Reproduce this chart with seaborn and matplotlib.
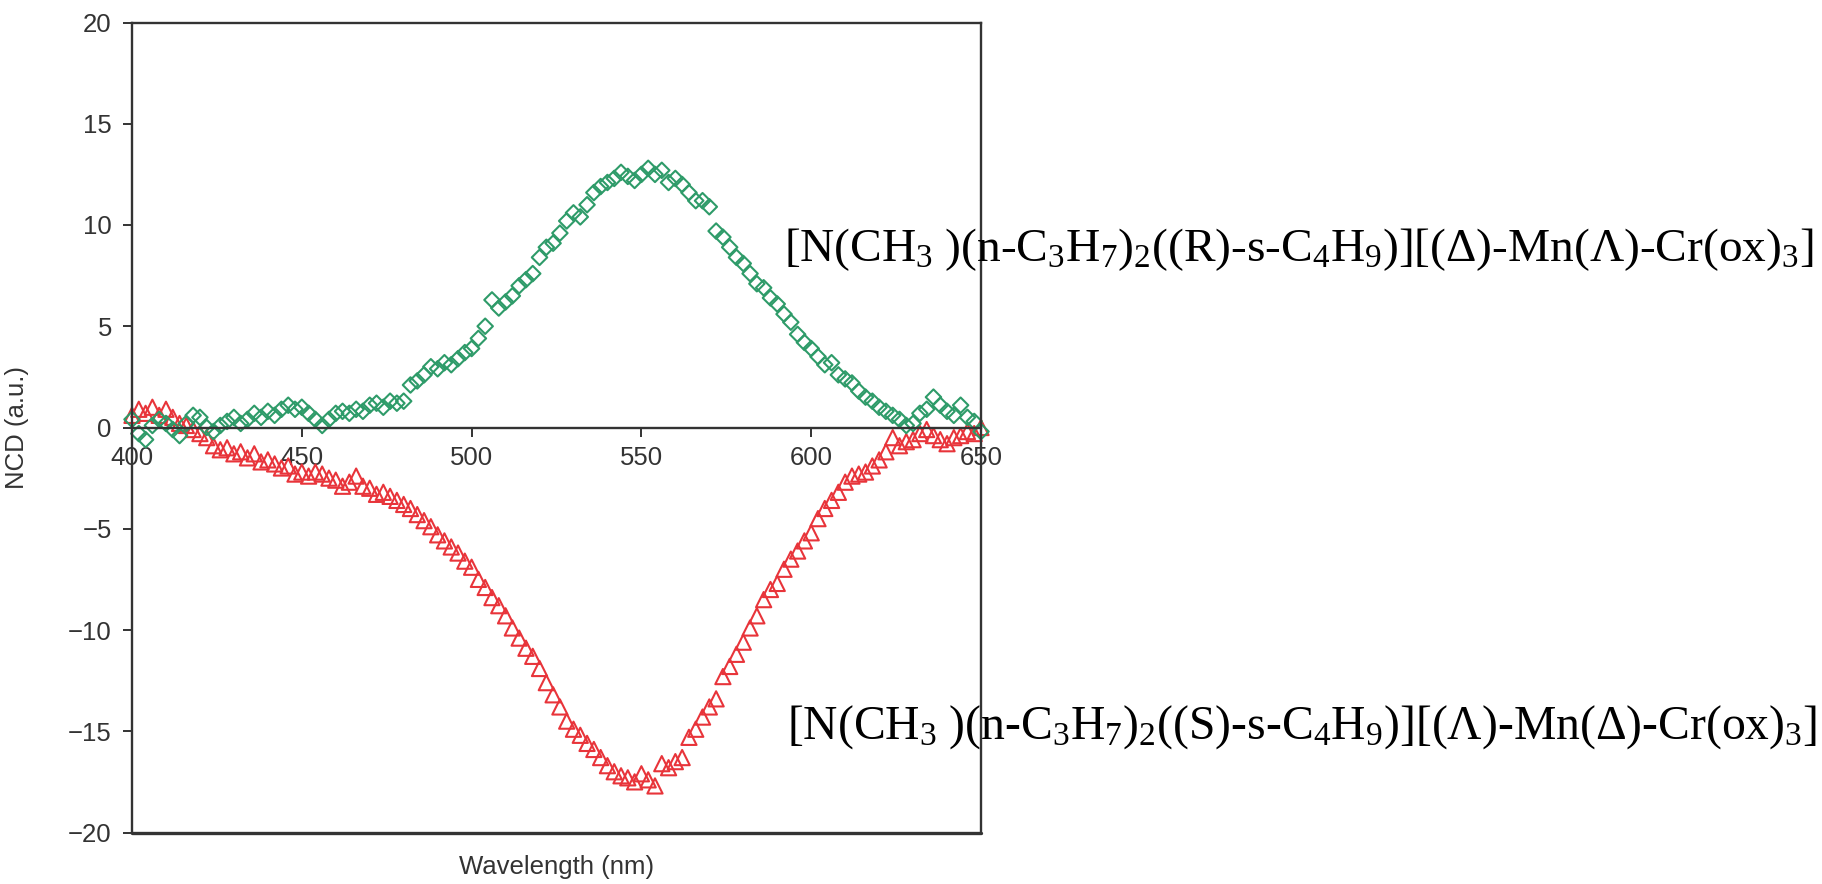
import numpy as np
import pandas as pd
import matplotlib
matplotlib.use("Agg")
import matplotlib.pyplot as plt
import seaborn as sns
from matplotlib import font_manager

# ---------------- data ----------------
wavelength = list(range(400, 651, 2))

ncd_R = [0.4, -0.3, -0.6, 0.1, 0.4, 0.2, -0.1, -0.4, 0.2, 0.6,
         0.5, 0.0, -0.2, 0.1, 0.3, 0.5, 0.2, 0.4, 0.7, 0.5,
         0.8, 0.6, 0.9, 1.1, 0.9, 1.0, 0.7, 0.4, 0.1, 0.4,
         0.7, 0.8, 0.7, 0.9, 0.8, 1.1, 1.2, 1.0, 1.3, 1.2,
         1.3, 2.1, 2.3, 2.6, 3.0, 2.9, 3.2, 3.1, 3.4, 3.7,
         3.9, 4.4, 5.0, 6.3, 5.9, 6.2, 6.5, 7.0, 7.3, 7.6,
         8.4, 8.9, 9.1, 9.6, 10.2, 10.6, 10.4, 11.0, 11.6, 11.9,
         12.1, 12.3, 12.6, 12.4, 12.2, 12.5, 12.8, 12.5, 12.7, 12.1,
         12.3, 12.0, 11.6, 11.2, 11.2, 10.9, 9.7, 9.4, 8.9, 8.4,
         8.1, 7.6, 7.1, 6.9, 6.4, 6.1, 5.6, 5.2, 4.6, 4.2,
         3.9, 3.5, 3.1, 3.2, 2.6, 2.4, 2.2, 1.8, 1.5, 1.3,
         1.0, 0.8, 0.6, 0.4, 0.1, 0.2, 0.7, 0.9, 1.5, 1.1,
         0.8, 0.6, 1.1, 0.5, 0.3, -0.2]

ncd_S = [0.6, 0.9, 0.7, 1.0, 0.6, 0.9, 0.5, 0.2, 0.1, -0.1,
         -0.3, -0.5, -0.9, -1.1, -1.0, -1.3, -1.2, -1.5, -1.3, -1.7,
         -1.6, -1.8, -2.0, -1.9, -2.3, -2.2, -2.4, -2.2, -2.3, -2.5,
         -2.6, -2.9, -2.7, -2.4, -2.9, -3.0, -3.3, -3.2, -3.4, -3.6,
         -3.8, -4.0, -4.3, -4.6, -4.9, -5.3, -5.6, -5.9, -6.2, -6.6,
         -6.9, -7.5, -7.9, -8.4, -8.8, -9.3, -9.9, -10.4, -10.9, -11.3,
         -11.9, -12.6, -13.2, -13.8, -14.5, -14.9, -15.2, -15.6, -15.9, -16.3,
         -16.7, -17.0, -17.2, -17.3, -17.5, -17.1, -17.4, -17.7, -16.6, -16.8,
         -16.5, -16.3, -15.3, -14.9, -14.3, -13.8, -13.4, -12.3, -11.8, -11.2,
         -10.6, -9.9, -9.3, -8.5, -8.0, -7.7, -7.0, -6.5, -6.1, -5.6,
         -5.2, -4.5, -4.0, -3.6, -3.2, -2.7, -2.4, -2.3, -2.2, -1.9,
         -1.6, -1.2, -0.5, -0.9, -0.7, -0.6, -0.3, -0.1, -0.4, -0.6,
         -0.8, -0.5, -0.4, -0.2, -0.3, 0.0]

label_R = r"$\mathrm{[N(CH_3\ )(n\text{-}C_3H_7)_2((R)\text{-}s\text{-}C_4H_9)][(\Delta)\text{-}Mn(\Lambda)\text{-}Cr(ox)_3]}$"
label_S = r"$\mathrm{[N(CH_3\ )(n\text{-}C_3H_7)_2((S)\text{-}s\text{-}C_4H_9)][(\Lambda)\text{-}Mn(\Delta)\text{-}Cr(ox)_3]}$"

x_ticks = [400, 450, 500, 550, 600, 650]
y_ticks = [-20, -15, -10, -5, 0, 5, 10, 15, 20]
x_label = "Wavelength (nm)"
y_label = "NCD (a.u.)"

green = "#2e9b69"
red = "#e8343a"
axis_col = "#333333"

# ---------------- style ----------------
sns.set_theme(style="white")
names = {f.name for f in font_manager.fontManager.ttflist}
if "Liberation Sans Narrow" in names:
    sans = "Liberation Sans Narrow"
    tick_fs = 20.5
else:
    sans = "Liberation Sans"
    tick_fs = 18.5
plt.rcParams["font.family"] = [sans, "DejaVu Sans"]
plt.rcParams["mathtext.fontset"] = "custom"
plt.rcParams["mathtext.rm"] = "Liberation Serif"
plt.rcParams["mathtext.it"] = "Liberation Serif:italic"
plt.rcParams["mathtext.bf"] = "Liberation Serif:bold"

fig = plt.figure(figsize=(18.22, 8.84), dpi=100)
ax = fig.add_axes([132 / 1822, 51.5 / 884, 849 / 1822, 810 / 884])

df_S = pd.DataFrame({"wl": wavelength, "ncd": ncd_S})
df_R = pd.DataFrame({"wl": wavelength, "ncd": ncd_R})

sns.scatterplot(data=df_S, x="wl", y="ncd", marker="^", s=120, ax=ax,
                facecolor="none", edgecolor=red, linewidth=1.5, clip_on=False)
sns.scatterplot(data=df_R, x="wl", y="ncd", marker="D", s=62, ax=ax,
                facecolor="none", edgecolor=green, linewidth=1.5, clip_on=False)
for coll, col in zip(ax.collections, [red, green]):
    coll.set_facecolor("none")
    coll.set_edgecolor(col)
    coll.set_linewidth(1.5)

ax.set_xlim(400, 650)
ax.set_ylim(-20, 20)
ax.set_xticks(x_ticks)
ax.set_yticks(y_ticks)

for side in ["left", "right", "top", "bottom"]:
    ax.spines[side].set_visible(True)
    ax.spines[side].set_color(axis_col)
    ax.spines[side].set_linewidth(1.7)
ax.spines["bottom"].set_position(("data", 0))
# lower frame edge
ax.axhline(ax.get_ylim()[0], color=axis_col, linewidth=2.4, clip_on=False, zorder=3)

ax.tick_params(axis="both", which="major", direction="out", length=6.5,
               width=1.4, color=axis_col, labelcolor=axis_col, labelsize=tick_fs)
ax.tick_params(axis="y", pad=8, left=True)
ax.tick_params(axis="x", pad=7, bottom=True)

ax.set_xlabel(x_label, fontsize=tick_fs, color=axis_col)
ax.set_ylabel(y_label, fontsize=tick_fs, color=axis_col)
ax.xaxis.set_label_coords(0.5, (832.5 - 855) / 810)
ax.yaxis.set_label_coords((29 - 132) / 849, 0.5)

# annotations fitted to the reference widths
target_w = 1815 - 785
for lab, xf, yf in [(label_R, 784, 250), (label_S, 787, 727)]:
    t = fig.text(xf / 1822, 1 - yf / 884, lab, ha="left", va="center",
                 fontsize=34, color="black")
    fig.canvas.draw()
    w = t.get_window_extent().width
    t.set_fontsize(34 * target_w / w)

fig.savefig("out.png", dpi=100)
